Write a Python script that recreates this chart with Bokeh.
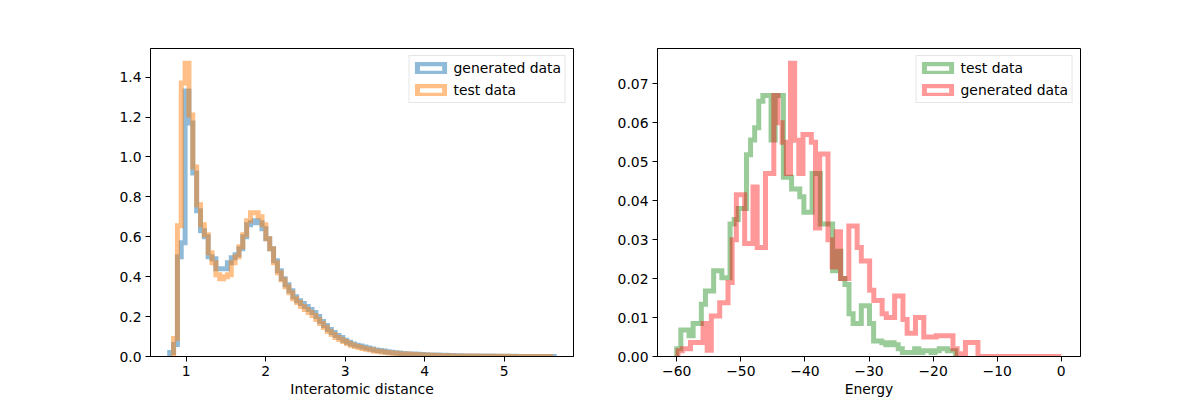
import numpy as np
from bokeh.plotting import figure
from bokeh.layouts import row
from bokeh.models import Range1d, FixedTicker, Legend, LegendItem
from bokeh.embed import file_html
from bokeh.resources import INLINE

# ---------------- data (density histograms) ----------------
# Left panel: interatomic distance
dist_gen_lo, dist_gen_hi = 0.792, 5.632      # generated data, 100 bins
dist_gen = [
    0.02, 0.06, 0.50, 0.57, 1.33, 1.17, 0.92, 0.73, 0.63, 0.60,
    0.50, 0.49, 0.44, 0.44, 0.44, 0.47, 0.495, 0.51, 0.54, 0.60,
    0.66, 0.67, 0.68, 0.67, 0.64, 0.59, 0.54, 0.48, 0.43, 0.39,
    0.36, 0.33, 0.30, 0.28, 0.265, 0.25, 0.235, 0.22, 0.20, 0.175,
    0.155, 0.135, 0.12, 0.105, 0.095, 0.082, 0.072, 0.063, 0.057, 0.052,
    0.047, 0.042, 0.038, 0.033, 0.030, 0.027, 0.024, 0.021, 0.019, 0.017,
    0.015, 0.014, 0.013, 0.012, 0.011, 0.010, 0.009, 0.008, 0.007, 0.007,
    0.006, 0.006, 0.005, 0.005, 0.004, 0.004, 0.003, 0.003, 0.003, 0.002,
    0.002, 0.002, 0.001, 0.002, 0.001, 0.001, 0.001, 0.001, 0.0005, 0.001,
    0.0005, 0.0005, 0.0005, 0.0005, 0.0005, 0.0003, 0.0003, 0.0003, 0.0003, 0.0003,
]
dist_test_lo, dist_test_hi = 0.8404, 5.5836  # test data, 98 bins
dist_test = [
    0.09, 0.655, 1.37, 1.47, 1.21, 0.95, 0.76, 0.66, 0.61, 0.52,
    0.47, 0.41, 0.39, 0.40, 0.41, 0.47, 0.50, 0.55, 0.61, 0.68,
    0.72, 0.72, 0.70, 0.66, 0.59, 0.54, 0.47, 0.42, 0.385, 0.35,
    0.32, 0.29, 0.27, 0.25, 0.235, 0.22, 0.205, 0.185, 0.165, 0.145,
    0.125, 0.11, 0.095, 0.085, 0.075, 0.065, 0.057, 0.05, 0.045, 0.04,
    0.036, 0.032, 0.028, 0.025, 0.022, 0.02, 0.018, 0.016, 0.014, 0.013,
    0.012, 0.011, 0.01, 0.009, 0.008, 0.007, 0.006, 0.006, 0.005, 0.005,
    0.004, 0.004, 0.003, 0.003, 0.003, 0.002, 0.002, 0.002, 0.002, 0.001,
    0.001, 0.001, 0.001, 0.001, 0.0008, 0.0008, 0.0008, 0.0005, 0.0005, 0.0005,
    0.0005, 0.0005, 0.0003, 0.0003, 0.0003, 0.0003, 0.0003, 0.0003,
]

# Right panel: energy
energy_test_lo, energy_test_hi = -60.0, -16.48   # test data, 68 bins
energy_test = [
    0.002, 0.0068, 0.0068, 0.0053, 0.0085, 0.0085, 0.0134, 0.0168, 0.0168, 0.022,
    0.022, 0.0202, 0.0202, 0.034, 0.0352, 0.038, 0.038, 0.0518, 0.0556, 0.0587,
    0.0655, 0.067, 0.067, 0.0556, 0.067, 0.067, 0.046, 0.046, 0.043, 0.043,
    0.041, 0.037, 0.037, 0.047, 0.047, 0.034, 0.034, 0.034, 0.022, 0.027,
    0.020, 0.0185, 0.011, 0.0085, 0.0085, 0.013, 0.013, 0.0085, 0.004, 0.004,
    0.0035, 0.003, 0.0035, 0.003, 0.002, 0.001, 0.001, 0.001, 0.002, 0.001,
    0.0015, 0.0015, 0.001, 0.0015, 0.002, 0.002, 0.0015, 0.0015,
]
energy_gen_lo, energy_gen_hi = -59.8, 0.0        # generated data, 92 bins
energy_gen = [
    0.0015, 0.002, 0.002, 0.0036, 0.0036, 0.0036, 0.0085, 0.0016, 0.0104, 0.0104,
    0.0138, 0.0138, 0.019, 0.030, 0.0415, 0.0415, 0.029, 0.029, 0.0435, 0.028,
    0.028, 0.047, 0.047, 0.067, 0.060, 0.055, 0.047, 0.0753, 0.0555, 0.047,
    0.057, 0.057, 0.055, 0.033, 0.052, 0.052, 0.030, 0.023, 0.032, 0.020,
    0.020, 0.0335, 0.0335, 0.028, 0.0245, 0.0245, 0.017, 0.0144, 0.0144, 0.011,
    0.010, 0.010, 0.0155, 0.0155, 0.0095, 0.006, 0.006, 0.010, 0.010, 0.005,
    0.005, 0.005, 0.0053, 0.0053, 0.0053, 0.0053, 0.002, 0.0007, 0.0, 0.0036,
    0.0036, 0.0036, 0.0, 0.0, 0.0, 0.0, 0.0, 0.0, 0.0, 0.0,
    0.0, 0.0, 0.0, 0.0, 0.0, 0.0, 0.0, 0.0, 0.0, 0.0,
    0.0, 0.0,
]

dist_ticks = [1, 2, 3, 4, 5]
dist_tick_labels = ["1", "2", "3", "4", "5"]
dens_left_ticks = [0.0, 0.2, 0.4, 0.6, 0.8, 1.0, 1.2, 1.4]
dens_left_labels = ["0.0", "0.2", "0.4", "0.6", "0.8", "1.0", "1.2", "1.4"]
energy_ticks = [-60, -50, -40, -30, -20, -10, 0]
energy_tick_labels = ["\u221260", "\u221250", "\u221240", "\u221230", "\u221220", "\u221210", "0"]
dens_right_ticks = [0.0, 0.01, 0.02, 0.03, 0.04, 0.05, 0.06, 0.07]
dens_right_labels = ["0.00", "0.01", "0.02", "0.03", "0.04", "0.05", "0.06", "0.07"]

C_BLUE, C_ORANGE = "#1f77b4", "#ff7f0e"
C_GREEN, C_RED = "#008000", "#ff0000"
A_LEFT, A_RIGHT = 0.5, 0.4
FONT = "DejaVu Sans"
FS = "13.9px"
LW = 5


def step_path(lo, hi, vals):
    edges = np.linspace(lo, hi, len(vals) + 1)
    xs = np.repeat(edges, 2)
    ys = np.concatenate([[0.0], np.repeat(np.asarray(vals, dtype=float), 2), [0.0]])
    return xs, ys


def padded(lo, hi, frac=0.05):
    d = hi - lo
    return Range1d(lo - frac * d, hi + frac * d)


def style(p, xticks, xlabels, yticks, ylabels, xlabel):
    p.xgrid.visible = False
    p.ygrid.visible = False
    p.outline_line_color = "black"
    p.outline_line_width = 1
    p.background_fill_color = "white"
    p.border_fill_color = "white"
    for ax in (p.xaxis[0], p.yaxis[0]):
        ax.axis_line_color = "black"
        ax.major_tick_line_color = "black"
        ax.major_tick_out = 5
        ax.major_tick_in = 0
        ax.minor_tick_line_color = None
        ax.major_label_text_font = FONT
        ax.major_label_text_font_size = FS
        ax.major_label_text_color = "black"
        ax.axis_label_text_font = FONT
        ax.axis_label_text_font_size = FS
        ax.axis_label_text_font_style = "normal"
        ax.axis_label_text_color = "black"
        ax.major_label_standoff = 4
        ax.axis_label_standoff = 2
    p.xaxis[0].ticker = FixedTicker(ticks=xticks)
    p.xaxis[0].major_label_overrides = dict(zip(xticks, xlabels))
    p.yaxis[0].ticker = FixedTicker(ticks=yticks)
    p.yaxis[0].major_label_overrides = dict(zip(yticks, ylabels))
    p.xaxis[0].axis_label = xlabel


def add_hist(p, lo, hi, vals, color, alpha):
    xs, ys = step_path(lo, hi, vals)
    p.line(xs, ys, line_color=color, line_alpha=alpha, line_width=LW, line_join="miter")


def add_legend(p, entries, alpha):
    items = []
    for label, color in entries:
        # legend-only handle: a NaN rect is never drawn in the plot area
        h = p.rect(x=[np.nan], y=[np.nan], width=[1.0], height=[1.0], fill_alpha=0,
                   line_color=color, line_alpha=alpha, line_width=LW, line_join="miter")
        items.append(LegendItem(label=label, renderers=[h]))
    lg = Legend(items=items, location="top_right", margin=7, padding=4, spacing=6,
                glyph_width=34, glyph_height=12, label_height=12, label_standoff=6,
                label_text_font=FONT, label_text_font_size=FS, label_text_color="black",
                border_line_color="#cccccc", border_line_width=1,
                background_fill_color="white", background_fill_alpha=0.8)
    p.add_layout(lg)


H = 400
# ---------------- left figure ----------------
xr1 = padded(min(dist_gen_lo, dist_test_lo), max(dist_gen_hi, dist_test_hi))
yr1 = Range1d(0, 1.05 * max(max(dist_gen), max(dist_test)))
p1 = figure(width=593, height=H, x_range=xr1, y_range=yr1, output_backend="svg",
            toolbar_location=None, min_border_left=150, min_border_right=20,
            min_border_top=48, min_border_bottom=44)
style(p1, dist_ticks, dist_tick_labels, dens_left_ticks, dens_left_labels, "Interatomic distance")
add_hist(p1, dist_gen_lo, dist_gen_hi, dist_gen, C_BLUE, A_LEFT)
add_hist(p1, dist_test_lo, dist_test_hi, dist_test, C_ORANGE, A_LEFT)
add_legend(p1, [("generated data", C_BLUE), ("test data", C_ORANGE)], A_LEFT)

# ---------------- right figure ----------------
xr2 = padded(min(energy_test_lo, energy_gen_lo), max(energy_test_hi, energy_gen_hi))
yr2 = Range1d(0, 1.05 * max(max(energy_test), max(energy_gen)))
p2 = figure(width=507, height=H, x_range=xr2, y_range=yr2, output_backend="svg",
            toolbar_location=None, min_border_left=64, min_border_right=20,
            min_border_top=48, min_border_bottom=44)
style(p2, energy_ticks, energy_tick_labels, dens_right_ticks, dens_right_labels, "Energy")
add_hist(p2, energy_test_lo, energy_test_hi, energy_test, C_GREEN, A_RIGHT)
add_hist(p2, energy_gen_lo, energy_gen_hi, energy_gen, C_RED, A_RIGHT)
add_legend(p2, [("test data", C_GREEN), ("generated data", C_RED)], A_RIGHT)

layout = row(p1, p2)
open("out.html", "w").write(file_html(layout, INLINE))
